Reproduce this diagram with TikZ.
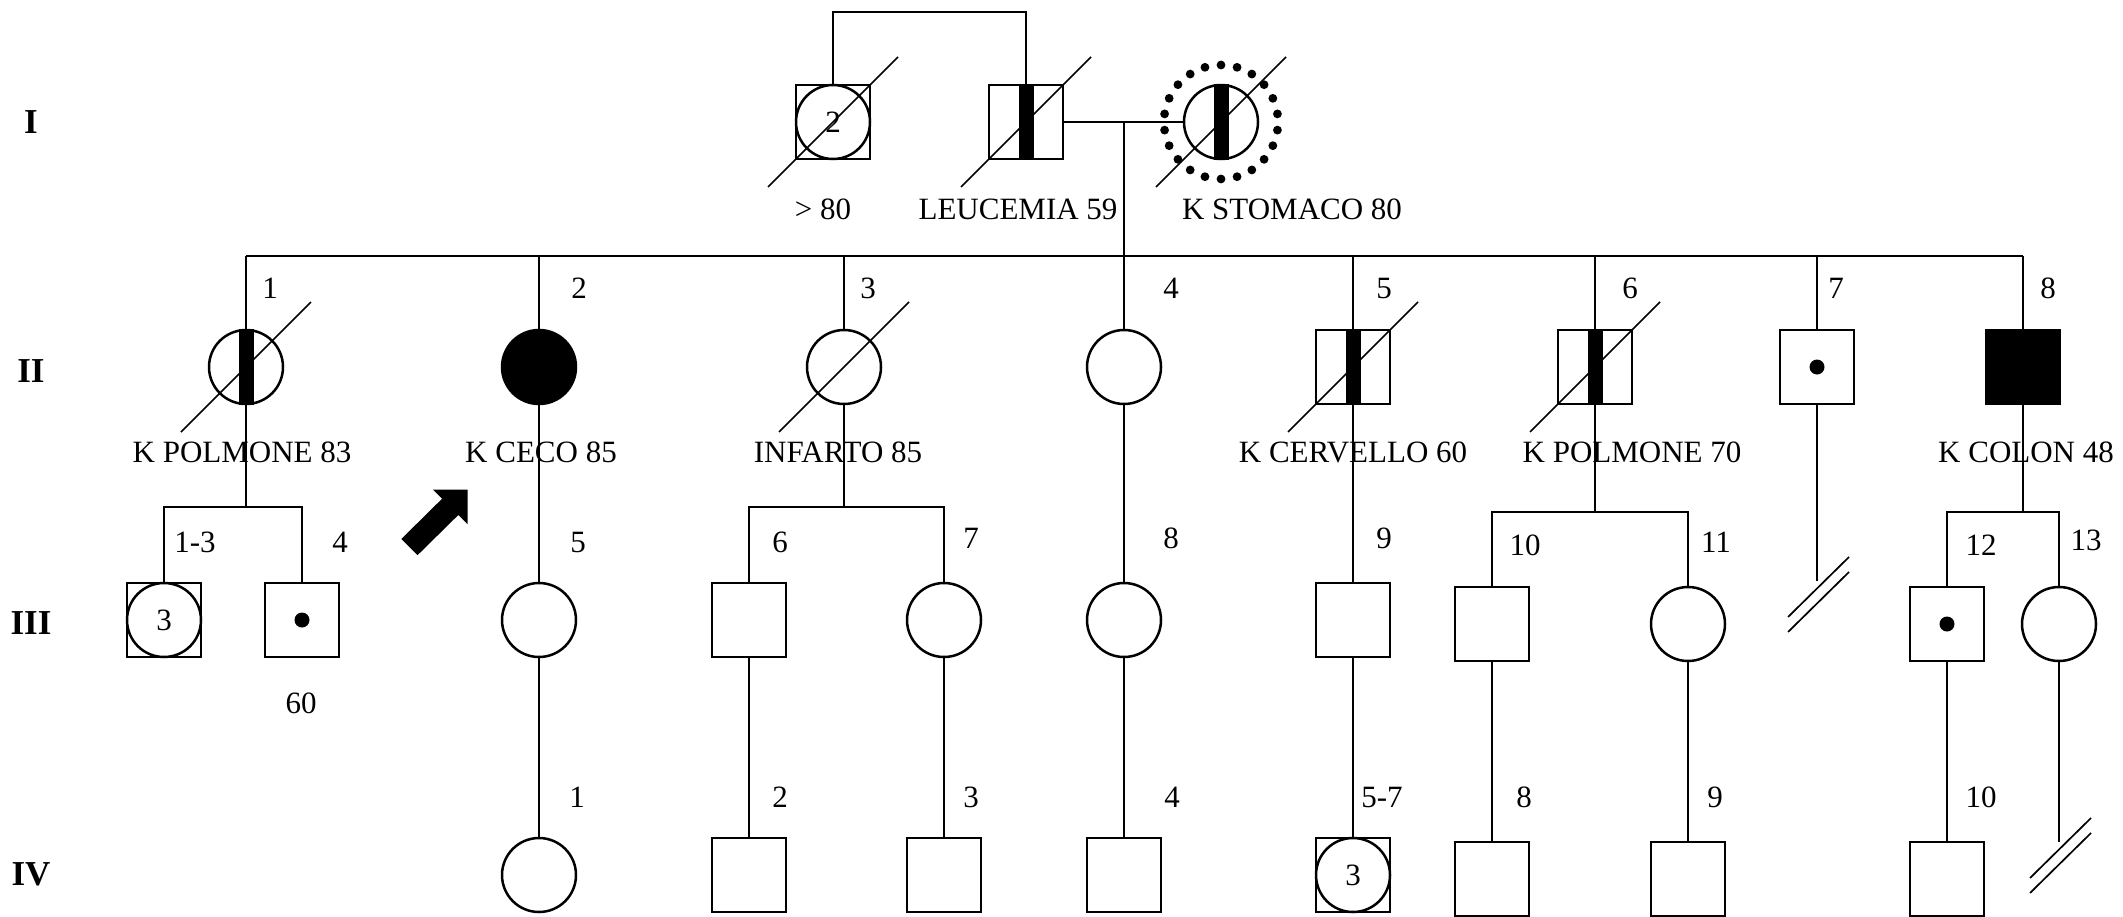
\documentclass[tikz,border=0pt]{standalone}
\usepackage{fontspec}
\setmainfont{Liberation Serif}
\newcommand\lblfont{\fontsize{31}{36}\selectfont}
\newcommand\genfont{\fontsize{35}{40}\selectfont\bfseries}
\newcommand\stripemark[1]{\fill ([xshift=-7.5pt]#1.north) rectangle ([xshift=7.5pt]#1.south);}
\newcommand\slashmark[1]{\draw[slash] ([shift={(-65,65)}]#1.center) -- ([shift={(65,-65)}]#1.center);}
\newcommand\dotmark[1]{\fill (#1.center) circle (7.5);}
\newcommand\breakmark[1]{\draw[slash] ([shift={(-29,36)}]#1) -- ([shift={(32,-24)}]#1);
  \draw[slash] ([shift={(-29,51)}]#1) -- ([shift={(32,-9)}]#1);}
\begin{document}
\begin{tikzpicture}[x=1pt,y=-1pt,
  sym/.style={draw, line width=2.5pt, inner sep=0pt, font=\lblfont},
  sq/.style={sym, rectangle, minimum width=74pt, minimum height=74pt},
  ci/.style={sym, circle, minimum size=74pt},
  conn/.style={line width=1.7pt},
  slash/.style={line width=1.7pt},
  lbl/.style={inner sep=0pt, font=\lblfont},
  gen/.style={inner sep=0pt, font=\genfont}]
\fill[white] (0,0) rectangle (2123,916);
\useasboundingbox (0,0) rectangle (2123,916);

% generation labels
\node[gen] (gI) at (31,122) {I};
\node[gen] (gII) at (31,371) {II};
\node[gen] (gIII) at (31,623) {III};
\node[gen] (gIV) at (31,874) {IV};

% ---------- generation I ----------
\node[sq] (IA) at (833,122) {};
\node[ci] (IAc) at (833,122) {2};
\node[sq] (IB) at (1026,122) {};
\node[ci] (IC) at (1221,122) {};
\stripemark{IB}
\stripemark{IC}
\slashmark{IA}
\slashmark{IB}
\slashmark{IC}
\foreach \i in {0,...,21} {\fill (IC.center) ++(90+\i*360/22:57) circle (4.4);}
\node[lbl] (tIA) at (823,209) {> 80};
\node[lbl] (tIB) at (1018,209) {LEUCEMIA 59};
\node[lbl] (tIC) at (1292,209) {K STOMACO 80};
\coordinate (topI) at (0,12);
\draw[conn] (IA.north) |- (topI -| IB.north) -- (IB.north);
\draw[conn] (IB.east) -- (IC.west);
\coordinate (mI) at (1124,122);
\coordinate (sII) at (0,256);

% ---------- generation II ----------
\node[ci] (II1) at (246,367) {};
\node[ci, fill=black] (II2) at (539,367) {};
\node[ci] (II3) at (844,367) {};
\node[ci] (II4) at (1124,367) {};
\node[sq] (II5) at (1353,367) {};
\node[sq] (II6) at (1595,367) {};
\node[sq] (II7) at (1817,367) {};
\node[sq, fill=black] (II8) at (2023,367) {};
\stripemark{II1}
\stripemark{II5}
\stripemark{II6}
\slashmark{II1}
\slashmark{II3}
\slashmark{II5}
\slashmark{II6}
\dotmark{II7}

\draw[conn] (mI) -- (mI |- sII);
\draw[conn] (II1 |- sII) -- (II8 |- sII);
\foreach \n in {II1,II2,II3,II4,II5,II6,II7,II8} {\draw[conn] (\n |- sII) -- (\n.north);}

\node[lbl] (nII1) at (270,288) {1};
\node[lbl] (nII2) at (579,288) {2};
\node[lbl] (nII3) at (868,288) {3};
\node[lbl] (nII4) at (1171,288) {4};
\node[lbl] (nII5) at (1384,288) {5};
\node[lbl] (nII6) at (1630,288) {6};
\node[lbl] (nII7) at (1836,288) {7};
\node[lbl] (nII8) at (2048,288) {8};

\node[lbl] (tII1) at (242,452) {K POLMONE 83};
\node[lbl] (tII2) at (541,452) {K CECO 85};
\node[lbl] (tII3) at (838,452) {INFARTO 85};
\node[lbl] (tII5) at (1353,452) {K CERVELLO 60};
\node[lbl] (tII6) at (1632,452) {K POLMONE 70};
\node[lbl] (tII8) at (2026,452) {K COLON 48};

% ---------- generation III ----------
\node[sq] (III1) at (164,620) {};
\node[ci] (III1c) at (164,620) {3};
\node[sq] (III4) at (302,620) {};
\dotmark{III4}
\node[ci] (III5) at (539,620) {};
\node[sq] (III6) at (749,620) {};
\node[ci] (III7) at (944,620) {};
\node[ci] (III8) at (1124,620) {};
\node[sq] (III9) at (1353,620) {};
\node[sq] (III10) at (1492,624) {};
\node[ci] (III11) at (1688,624) {};
\node[sq] (III12) at (1947,624) {};
\dotmark{III12}
\node[ci] (III13) at (2059,624) {};

\coordinate (s1) at (246,507);
\coordinate (s3) at (844,507);
\coordinate (s6) at (1595,512);
\coordinate (s8) at (2023,512);
\draw[conn] (II1.south) -- (s1);
\draw[conn] (III1.north) |- (s1) -| (III4.north);
\draw[conn] (II3.south) -- (s3);
\draw[conn] (III6.north) |- (s3) -| (III7.north);
\draw[conn] (II6.south) -- (s6);
\draw[conn] (III10.north) |- (s6) -| (III11.north);
\draw[conn] (II8.south) -- (s8);
\draw[conn] (III12.north) |- (s8) -| (III13.north);
\draw[conn] (II2.south) -- (III5.north);
\draw[conn] (II4.south) -- (III8.north);
\draw[conn] (II5.south) -- (III9.north);
\coordinate (e7) at (1817,581);
\draw[conn] (II7.south) -- (e7);
\breakmark{e7}

\node[lbl] (nIII1) at (195,542) {1-3};
\node[lbl] (nIII4) at (340,542) {4};
\node[lbl] (nIII5) at (578,542) {5};
\node[lbl] (nIII6) at (780,542) {6};
\node[lbl] (nIII7) at (971,538) {7};
\node[lbl] (nIII8) at (1171,538) {8};
\node[lbl] (nIII9) at (1384,538) {9};
\node[lbl] (nIII10) at (1525,545) {10};
\node[lbl] (nIII11) at (1716,542) {11};
\node[lbl] (nIII12) at (1981,545) {12};
\node[lbl] (nIII13) at (2086,540) {13};
\node[lbl] (tIII4) at (301,703) {60};

% proband arrow
\fill (417.6,555.1) -- (401.4,538.9) -- (442.1,498.7) -- (432.9,489.5) -- (467.5,489.5) -- (467.5,524.1) -- (458.3,515) -- cycle;

% ---------- generation IV ----------
\node[ci] (IV1) at (539,875) {};
\node[sq] (IV2) at (749,875) {};
\node[sq] (IV3) at (944,875) {};
\node[sq] (IV4) at (1124,875) {};
\node[sq] (IV5) at (1353,875) {};
\node[ci] (IV5c) at (1353,875) {3};
\node[sq] (IV8) at (1492,879) {};
\node[sq] (IV9) at (1688,879) {};
\node[sq] (IV10) at (1947,879) {};

\draw[conn] (III5.south) -- (IV1.north);
\draw[conn] (III6.south) -- (IV2.north);
\draw[conn] (III7.south) -- (IV3.north);
\draw[conn] (III8.south) -- (IV4.north);
\draw[conn] (III9.south) -- (IV5.north);
\draw[conn] (III10.south) -- (IV8.north);
\draw[conn] (III11.south) -- (IV9.north);
\draw[conn] (III12.south) -- (IV10.north);
\coordinate (e13) at (2059,842);
\draw[conn] (III13.south) -- (e13);
\breakmark{e13}

\node[lbl] (nIV1) at (577,797) {1};
\node[lbl] (nIV2) at (780,797) {2};
\node[lbl] (nIV3) at (971,797) {3};
\node[lbl] (nIV4) at (1172,797) {4};
\node[lbl] (nIV5) at (1382,797) {5-7};
\node[lbl] (nIV8) at (1524,797) {8};
\node[lbl] (nIV9) at (1715,797) {9};
\node[lbl] (nIV10) at (1981,797) {10};
\end{tikzpicture}
\end{document}
